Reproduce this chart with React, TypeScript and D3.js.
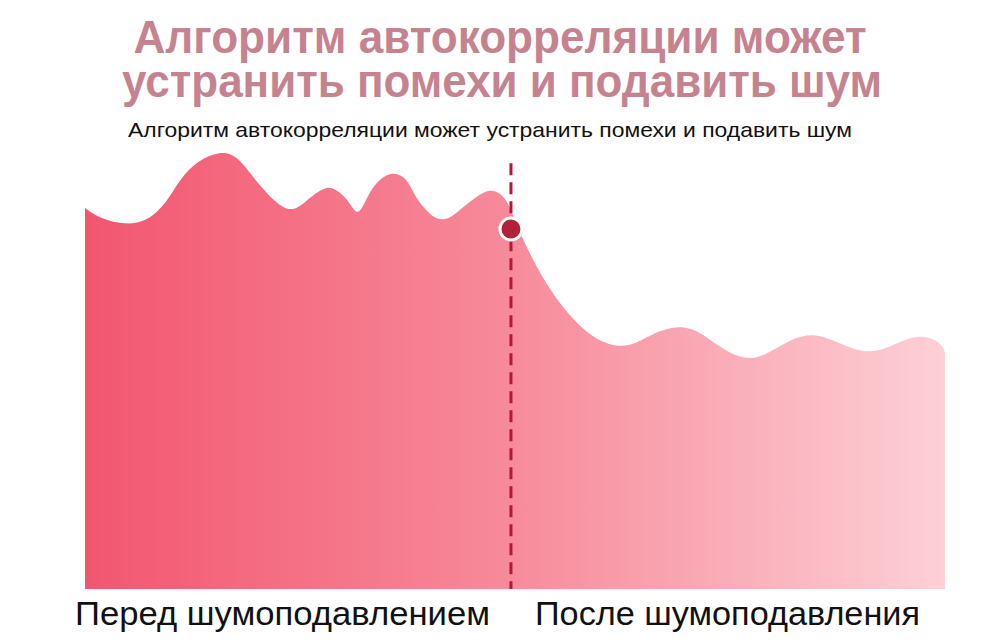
import React from "react";
import * as d3 from "d3";

const titleLines = ["Алгоритм автокорреляции может", "устранить помехи и подавить шум"];
const subtitle = "Алгоритм автокорреляции может устранить помехи и подавить шум";
const phaseLabels = ["Перед шумоподавлением", "После шумоподавления"];

// signal: time (0..100) and amplitude (0..100)
const times = [0, 1.74, 5.23, 7.91, 9.88, 11.05, 13.02, 15.7, 17.67, 19.53, 21.16, 23.84, 25.81, 28.14, 29.65, 30.81, 31.74, 32.79, 33.95, 35.81, 37.44, 38.37, 39.77, 40.93, 42.44, 43.95, 45.58, 47.09, 48.6, 49.42, 50.58, 52.09, 54.07, 56.05, 58.37, 60.7, 63.37, 66.05, 69.19, 71.51, 72.67, 75.0, 77.33, 79.65, 81.98, 84.65, 86.98, 89.77, 92.09, 94.42, 96.74, 99.07, 100, 100];
const amplitudes = [86.8, 84.3, 82.7, 84.5, 89.3, 93.4, 97.5, 99.8, 98.8, 93.8, 90.0, 85.2, 88.6, 92.2, 90.4, 88.0, 84.6, 89.3, 93.0, 95.2, 93.6, 89.3, 86.0, 84.0, 84.3, 87.0, 89.5, 91.2, 89.9, 87.0, 81.1, 74.9, 68.1, 62.9, 58.3, 55.6, 55.0, 58.3, 60.2, 58.5, 56.7, 53.6, 52.1, 53.8, 56.9, 58.3, 56.7, 54.2, 53.9, 56.0, 57.9, 56.9, 54.5, 53.0];

const splitTime = [49.53];
const splitTop = [97.0];
const markerAmp = [82.0];

export default function App() {
  const W = 1000, H = 642;
  const x = d3.scaleLinear().domain([0, 100]).range([85, 945]);
  const y = d3.scaleLinear().domain([0, 100]).range([589, 150]);
  const pts = times.map((t, i) => ({ t, a: amplitudes[i] }));
  const area = d3
    .area<{ t: number; a: number }>()
    .x((d) => x(d.t))
    .y0(y(0))
    .y1((d) => y(d.a))
    .curve(d3.curveBasis);

  return (
    <svg width={W} height={H} style={{ position: "absolute", left: 0, top: 0, background: "#fff" }}>
      <defs>
        <linearGradient id="fillGrad" x1="0" x2="1" y1="0" y2="0">
          <stop offset="0" stopColor="#f2566f" />
          <stop offset="0.5" stopColor="#f78b9b" />
          <stop offset="1" stopColor="#fdd0d6" />
        </linearGradient>
      </defs>
      <text x={500} y={53} textAnchor="middle" fontFamily="Liberation Sans, Arial, sans-serif" fontWeight="bold" fontSize={47} fill="#c5838f" textLength={733} lengthAdjust="spacingAndGlyphs">{titleLines[0]}</text>
      <text x={502} y={97} textAnchor="middle" fontFamily="Liberation Sans, Arial, sans-serif" fontWeight="bold" fontSize={47} fill="#c5838f" textLength={760} lengthAdjust="spacingAndGlyphs">{titleLines[1]}</text>
      <text x={128} y={137} fontFamily="Liberation Sans, Arial, sans-serif" fontSize={21} fill="#111" textLength={724} lengthAdjust="spacingAndGlyphs">{subtitle}</text>
      <path d={area(pts) || ""} fill="url(#fillGrad)" />
      <line x1={x(splitTime[0])} x2={x(splitTime[0])} y1={y(splitTop[0])} y2={y(0)} stroke="#b01a32" strokeWidth={3} strokeDasharray="12 7" />
      <circle cx={x(splitTime[0])} cy={y(markerAmp[0])} r={11} fill="#b0223a" stroke="#fff" strokeWidth={3} />
      <text x={75} y={625} fontFamily="Liberation Sans, Arial, sans-serif" fontSize={34} fill="#111" textLength={415} lengthAdjust="spacingAndGlyphs">{phaseLabels[0]}</text>
      <text x={535} y={625} fontFamily="Liberation Sans, Arial, sans-serif" fontSize={34} fill="#111" textLength={385} lengthAdjust="spacingAndGlyphs">{phaseLabels[1]}</text>
    </svg>
  );
}
